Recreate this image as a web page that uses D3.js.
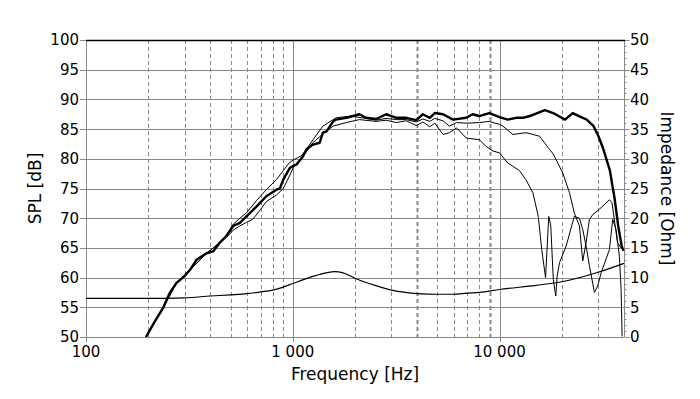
<!DOCTYPE html>
<html>
<head>
<meta charset="utf-8">
<script src="https://cdn.jsdelivr.net/npm/d3@7"></script>
<style>
  body { margin: 0; background: #fff; }
  svg { display: block; font-family: "DejaVu Sans", sans-serif; }
</style>
</head>
<body>
<svg id="chart"></svg>
<script>
// frequency axis (Hz)
const freqDomain = [100, 40000]
const freqLabels = [[100, '100'], [1000, '1 000'], [10000, '10 000']]
const freqDecades = [100, 1000, 10000]
const freqGrid = [200, 300, 400, 500, 600, 700, 800, 900,
  2000, 3000, 4000, 5000, 6000, 7000, 8000, 9000, 20000, 30000]
const freqGridBold = [4000, 9000]

// left axis (dB) and right axis (Ohm)
const splTicks = [50, 55, 60, 65, 70, 75, 80, 85, 90, 95, 100]
const ohmTicks = [0, 5, 10, 15, 20, 25, 30, 35, 40, 45, 50]
const ohmMinor = [1, 2, 3, 4, 6, 7, 8, 9, 11, 12, 13, 14, 16, 17, 18, 19, 21, 22, 23, 24,
  26, 27, 28, 29, 31, 32, 33, 34, 36, 37, 38, 39, 41, 42, 43, 44, 46, 47, 48, 49]

// SPL on axis [Hz, dB]
const onAxis = [[195, 50], [215, 52.6], [236, 54.9], [254, 57.4], [274, 59.1], [301, 60.3],
  [320, 61.4], [342, 63.0], [383, 64.1], [412, 64.4], [444, 65.9], [478, 67.0], [516, 68.7],
  [555, 69.2], [597, 70.3], [669, 72.0], [745, 73.7], [834, 74.8], [866, 75.0], [900, 76.5],
  [970, 78.5], [1005, 78.8], [1040, 79.0], [1120, 80.4], [1165, 81.6], [1252, 82.4],
  [1350, 82.7], [1398, 84.4], [1455, 84.6], [1568, 86.3], [1620, 86.6], [1815, 86.9],
  [2100, 87.5], [2260, 86.9], [2530, 86.7], [2830, 87.5], [3170, 86.9], [3540, 86.9],
  [3960, 86.5], [4260, 87.5], [4600, 86.9], [4860, 87.7], [5330, 87.5], [5960, 86.6],
  [6900, 86.9], [7420, 87.5], [7980, 87.2], [8920, 87.7], [10000, 87.0], [10960, 86.6],
  [12050, 86.9], [12990, 86.9], [14000, 87.2], [16570, 88.2], [18180, 87.7], [20740, 86.6],
  [22600, 87.7], [24500, 87.1], [26400, 86.6], [28500, 85.5], [30100, 83.8], [31800, 81.6],
  [34200, 78.0], [36100, 73.1], [37500, 68.7], [39000, 65.3], [39800, 64.5]]

// SPL off axis, 30 deg
const offAxis30 = [[195, 50], [236, 54.9], [274, 59.1], [320, 61.4], [383, 64.1], [444, 65.9],
  [478, 67.2], [516, 69.0], [555, 70.0], [597, 70.9], [669, 73.0], [745, 74.8], [834, 76.5],
  [900, 78.0], [960, 79.3], [1005, 79.8], [1100, 80.5], [1165, 81.6], [1252, 83.2],
  [1398, 85.5], [1620, 86.9], [1900, 87.2], [2260, 86.8], [2530, 86.5], [2830, 86.8],
  [3170, 86.6], [3540, 86.6], [3960, 86.2], [4260, 86.7], [4600, 86.3], [4860, 86.8],
  [5330, 86.4], [5720, 85.5], [6200, 86.1], [6900, 86.0], [8000, 86.1], [8920, 86.3],
  [9300, 86.1], [10000, 85.8], [10380, 85.5], [11600, 84.1], [13460, 84.4], [15600, 83.8],
  [17440, 81.6], [18200, 80.8], [20230, 77.6], [21790, 74.3], [23030, 70.8], [24360, 68.7],
  [25270, 62.8], [26230, 65.9], [27220, 69.8], [28250, 70.6], [30400, 71.5], [34000, 73.1],
  [35000, 72.6], [37200, 65.9], [38730, 65.0]]

// SPL off axis, 60 deg
const offAxis60 = [[195, 50], [236, 54.9], [274, 59.1], [320, 61.4], [383, 64.1], [444, 65.9],
  [478, 66.8], [516, 68.0], [555, 68.7], [597, 69.3], [640, 69.8], [700, 71.5], [745, 72.8],
  [834, 73.9], [900, 75.0], [970, 77.3], [1005, 78.5], [1120, 80.4], [1250, 82.7],
  [1400, 84.2], [1568, 85.5], [1815, 86.1], [2100, 86.6], [2530, 86.3], [2830, 86.5],
  [3170, 86.1], [3540, 86.4], [3960, 85.6], [4260, 86.2], [4600, 85.4], [4860, 86.0],
  [5330, 84.1], [5720, 84.4], [6200, 85.2], [6900, 83.5], [8000, 83.2], [8600, 82.1],
  [9300, 81.3], [10000, 81.0], [10960, 79.3], [12500, 78.0], [13400, 76.5], [14500, 74.3],
  [15400, 70.3], [16000, 64.7], [16700, 60.0], [17300, 70.3], [17700, 68.7], [18200, 59.7],
  [18700, 56.9], [19000, 60.2], [19500, 62.5], [21000, 65.3], [23000, 70.3], [24360, 70.0],
  [25270, 68.1], [26230, 65.3], [27220, 62.0], [28770, 57.5], [29850, 58.6], [31000, 60.8],
  [34000, 64.7], [35260, 69.8], [36630, 68.1], [37990, 63.6], [38730, 58.0], [39160, 50.1]]

// impedance [Hz, Ohm]
const impedance = [[100, 6.5], [200, 6.5], [300, 6.6], [400, 6.9], [500, 7.1], [600, 7.3],
  [700, 7.6], [800, 7.9], [900, 8.4], [1000, 9.0], [1250, 10.2], [1450, 10.8], [1600, 11.0],
  [1750, 10.8], [2000, 9.9], [2500, 8.7], [3000, 7.9], [3500, 7.5], [4000, 7.3], [5000, 7.2],
  [6000, 7.2], [7000, 7.4], [8000, 7.5], [10000, 8.0], [15000, 8.7], [20000, 9.3],
  [30000, 10.9], [40000, 12.4]]

const width = 700
const height = 399
const margin = { top: 40, right: 76, bottom: 62, left: 86 }
const w = width - margin.left - margin.right
const h = height - margin.top - margin.bottom
const gridColor = '#888'

const svg = d3.select('#chart')
  .attr('width', width)
  .attr('height', height)

const chart = svg.append('g')
  .attr('transform', `translate(${margin.left}, ${margin.top})`)

const x = d3.scaleLog().domain(freqDomain).range([0, w])
const y = d3.scaleLinear().domain([50, 100]).range([h, 0])
const yR = d3.scaleLinear().domain([0, 50]).range([h, 0])

const px = v => Math.round(v) + 0.5

// horizontal grid
chart.append('g').selectAll('line')
  .data(splTicks)
  .join('line')
    .attr('x1', 0).attr('x2', w)
    .attr('y1', d => px(y(d))).attr('y2', d => px(y(d)))
    .attr('stroke', gridColor)

// vertical dashed grid
chart.append('g').selectAll('line')
  .data(freqGrid)
  .join('line')
    .attr('x1', d => px(x(d))).attr('x2', d => px(x(d)))
    .attr('y1', 0).attr('y2', h)
    .attr('stroke', gridColor)
    .attr('stroke-width', d => freqGridBold.includes(d) ? 2 : 1)
    .attr('stroke-dasharray', '4,3')

// decades, solid
chart.append('g').selectAll('line')
  .data(freqDecades)
  .join('line')
    .attr('x1', d => px(x(d))).attr('x2', d => px(x(d)))
    .attr('y1', 0).attr('y2', h + 5)
    .attr('stroke', gridColor)

// right border and ticks
chart.append('line')
  .attr('x1', px(w)).attr('x2', px(w))
  .attr('y1', 0).attr('y2', h)
  .attr('stroke', gridColor)

chart.append('g').selectAll('line')
  .data(ohmMinor)
  .join('line')
    .attr('x1', px(w)).attr('x2', px(w) + 2)
    .attr('y1', d => px(yR(d))).attr('y2', d => px(yR(d)))
    .attr('stroke', gridColor)

chart.append('g').selectAll('line')
  .data(ohmTicks)
  .join('line')
    .attr('x1', px(w)).attr('x2', px(w) + 5)
    .attr('y1', d => px(yR(d))).attr('y2', d => px(yR(d)))
    .attr('stroke', gridColor)

// left ticks
chart.append('g').selectAll('line')
  .data(splTicks)
  .join('line')
    .attr('x1', -6).attr('x2', 0)
    .attr('y1', d => px(y(d))).attr('y2', d => px(y(d)))
    .attr('stroke', gridColor)

// curves
chart.append('clipPath').attr('id', 'plot')
  .append('rect').attr('width', w + 1).attr('height', h + 1)

const curves = chart.append('g').attr('clip-path', 'url(#plot)')

const splLine = d3.line().x(d => x(d[0])).y(d => y(d[1]))
const ohmLine = d3.line().x(d => x(d[0])).y(d => yR(d[1])).curve(d3.curveMonotoneX)

curves.append('path')
  .attr('d', ohmLine(impedance))
  .attr('fill', 'none').attr('stroke', '#000').attr('stroke-width', 1.2)

for (const s of [offAxis60, offAxis30]) {
  curves.append('path')
    .attr('d', splLine(s))
    .attr('fill', 'none').attr('stroke', '#000').attr('stroke-width', 1)
}

curves.append('path')
  .attr('d', splLine(onAxis))
  .attr('fill', 'none').attr('stroke', '#000').attr('stroke-width', 2.4)
  .attr('stroke-linejoin', 'round')

// top border
chart.append('line')
  .attr('x1', 0).attr('x2', w + 1)
  .attr('y1', 0.5).attr('y2', 0.5)
  .attr('stroke', '#000').attr('stroke-width', 1.6)

// tick labels
chart.append('g').selectAll('text')
  .data(splTicks)
  .join('text')
    .attr('x', -7).attr('y', d => y(d))
    .attr('dy', '0.36em')
    .attr('text-anchor', 'end')
    .attr('font-size', 15)
    .text(d => d)

chart.append('g').selectAll('text')
  .data(ohmTicks)
  .join('text')
    .attr('x', w + 6).attr('y', d => yR(d))
    .attr('dy', '0.36em')
    .attr('font-size', 15)
    .text(d => d)

chart.append('g').selectAll('text')
  .data(freqLabels)
  .join('text')
    .attr('x', d => x(d[0])).attr('y', h + 20)
    .attr('text-anchor', 'middle')
    .attr('font-size', 15)
    .text(d => d[1])

// axis titles
svg.append('text')
  .attr('transform', `translate(355, 380)`)
  .attr('text-anchor', 'middle')
  .attr('font-size', 17)
  .text('Frequency [Hz]')

svg.append('text')
  .attr('transform', `translate(41, ${margin.top + h / 2}) rotate(-90)`)
  .attr('text-anchor', 'middle')
  .attr('font-size', 17)
  .text('SPL [dB]')

svg.append('text')
  .attr('transform', `translate(661, ${margin.top + h / 2}) rotate(90)`)
  .attr('text-anchor', 'middle')
  .attr('font-size', 17)
  .text('Impedance [Ohm]')
</script>
</body>
</html>
